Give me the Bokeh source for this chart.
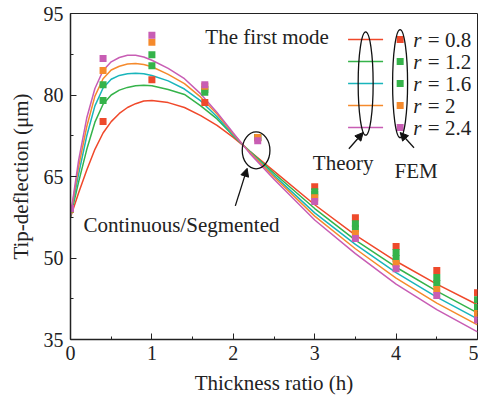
from bokeh.plotting import figure
from bokeh.models import FixedTicker, Arrow, NormalHead, Label
from bokeh.core.properties import value
from bokeh.embed import file_html
from bokeh.resources import INLINE

# Theory curves: tip deflection (um) vs thickness ratio h
h_theory = [0, 0.1, 0.2, 0.3, 0.4, 0.5, 0.6, 0.7, 0.8, 0.9, 1.0, 1.2, 1.4, 1.6,
            1.8, 2.0, 2.2, 2.5, 3.0, 3.5, 4.0, 4.5, 5.0]
theory_r08 = [57.5, 62.0, 66.2, 70.0, 73.0, 75.1, 76.6, 77.7, 78.4, 78.9, 79.0, 78.6,
              77.7, 76.2, 74.4, 72.2, 69.7, 66.0, 59.8, 54.2, 49.4, 45.2, 41.4]
theory_r12 = [57.6, 64.0, 70.0, 75.0, 78.3, 80.0, 80.9, 81.4, 81.7, 81.8, 81.7, 81.0,
              80.1, 78.0, 75.6, 72.5, 69.7, 65.6, 59.1, 53.3, 48.3, 43.9, 39.9]
theory_r16 = [57.7, 65.5, 72.5, 78.0, 81.3, 82.9, 83.6, 83.9, 84.0, 83.9, 83.6, 82.6,
              81.1, 78.9, 76.0, 72.6, 69.6, 65.2, 58.3, 52.5, 47.3, 42.8, 38.8]
theory_r20 = [57.8, 66.8, 74.2, 79.8, 83.0, 84.6, 85.3, 85.7, 85.8, 85.6, 85.2, 83.8,
              82.1, 79.6, 76.5, 72.8, 69.5, 64.9, 57.7, 51.7, 46.3, 41.7, 37.7]
theory_r24 = [57.8, 68.0, 75.8, 81.2, 84.5, 86.1, 86.9, 87.3, 87.3, 87.0, 86.4, 84.9,
              83.0, 80.2, 76.8, 73.0, 69.3, 64.5, 57.0, 50.8, 45.2, 40.5, 36.4]

# FEM results
h_fem = [0, 0.4, 1.0, 1.65, 2.3, 3.0, 3.5, 4.0, 4.5, 5.0]
fem_r08 = [59.0, 75.1, 82.8, 78.6, 72.1, 63.1, 57.4, 52.1, 47.7, 43.6]
fem_r12 = [59.0, 79.0, 85.4, 80.5, 72.2, 62.2, 56.3, 51.0, 46.4, 42.3]
fem_r16 = [59.0, 81.9, 87.4, 81.0, 72.2, 61.7, 55.4, 49.9, 45.3, 40.9]
fem_r20 = [59.0, 84.5, 89.7, 81.6, 72.2, 61.1, 54.5, 49.0, 44.2, 39.8]
fem_r24 = [59.1, 86.7, 91.0, 81.9, 71.6, 60.4, 53.6, 48.0, 43.1, 38.6]

r_labels = ["0.8", "1.2", "1.6", "2", "2.4"]
line_colors = ["#f0482a", "#35b34a", "#19b5bb", "#f58a2c", "#c85db4"]
fem_colors = ["#ee4a2c", "#35b34a", "#35b34a", "#f58a2c", "#c85db4"]
theory = [theory_r08, theory_r12, theory_r16, theory_r20, theory_r24]
fem = [fem_r08, fem_r12, fem_r16, fem_r20, fem_r24]

# Key rows (data y) and columns for the hand-drawn key
key_y = [90.2, 86.15, 82.1, 78.05, 74.0]
key_line_x = (3.41, 3.84)
key_sq_x = 4.05
key_txt_x = 4.21

SERIF = "Liberation Serif"
TXT = "21px"

p = figure(width=478, height=398, x_range=(0, 5), y_range=(35, 95),
           output_backend="svg", toolbar_location=None,
           min_border_left=70, min_border_right=1, min_border_top=13,
           min_border_bottom=59)
p.background_fill_color = "white"
p.border_fill_color = "white"
p.outline_line_color = "#222222"
p.outline_line_width = 1
p.xgrid.visible = False
p.ygrid.visible = False

p.xaxis.ticker = FixedTicker(ticks=[0, 1, 2, 3, 4, 5],
                             minor_ticks=[0.5, 1.5, 2.5, 3.5, 4.5])
p.yaxis.ticker = FixedTicker(ticks=[35, 50, 65, 80, 95],
                             minor_ticks=[42.5, 57.5, 72.5, 87.5])
for ax in (p.xaxis, p.yaxis):
    ax.major_tick_in = 6
    ax.major_tick_out = 0
    ax.minor_tick_in = 3
    ax.minor_tick_out = 0
    ax.axis_line_width = 1.5
    ax.axis_line_color = "#222222"
    ax.major_tick_line_color = "#222222"
    ax.minor_tick_line_color = "#222222"
    ax.major_label_text_font = SERIF
    ax.major_label_text_font_size = "20px"
    ax.major_label_text_color = "#222222"
    ax.axis_label_text_font = SERIF
    ax.axis_label_text_font_size = TXT
    ax.axis_label_text_font_style = "normal"
    ax.axis_label_text_color = "#222222"
p.xaxis.axis_label = "Thickness ratio (h)"
p.yaxis.axis_label = "Tip-deflection (μm)"
p.xaxis.major_label_standoff = 6
p.yaxis.major_label_standoff = 7
p.xaxis.axis_label_standoff = 8
p.yaxis.axis_label_standoff = 8

# Theory curves
for vals, c in zip(theory, line_colors):
    p.line(h_theory, vals, line_color=c, line_width=1.5)

# FEM squares
for vals, c in zip(fem, fem_colors):
    p.scatter(h_fem, vals, marker="square", size=7, fill_color=c,
              line_color=c, line_width=0)

# Key: sample lines, squares and labels
for ky, lc, fc, rl in zip(key_y, line_colors, fem_colors, r_labels):
    p.line(list(key_line_x), [ky, ky], line_color=lc, line_width=1.5)
    p.scatter([key_sq_x], [ky], marker="square", size=7, fill_color=fc,
              line_color=fc, line_width=0)
    p.text([key_txt_x], [ky], text=["r"], text_font=value(SERIF),
           text_font_style="italic", text_font_size=TXT,
           text_baseline="middle", text_color="#222222")
    p.text([key_txt_x + 0.18], [ky], text=["= " + rl], text_font=value(SERIF),
           text_font_size=TXT, text_baseline="middle", text_color="#222222")

# Ellipses grouping the key, and around the crossing point
p.ellipse([3.626, 4.049], [82.1, 82.1], width=[0.184, 0.184], height=[19.0, 19.9],
          fill_color=None, line_color="#111111", line_width=1.3)
p.ellipse([2.28], [69.8], width=[0.34], height=[6.8],
          fill_color=None, line_color="#111111", line_width=1.3)

# Arrows
for xs, ys, xe, ye in [(3.42, 70.1, 3.595, 73.1), (4.22, 70.3, 4.05, 73.1),
                       (2.025, 59.6, 2.17, 66.5)]:
    p.add_layout(Arrow(x_start=xs, y_start=ys, x_end=xe, y_end=ye,
                       line_color="#111111", line_width=1.3,
                       end=NormalHead(size=8, fill_color="#111111",
                                      line_color="#111111")))

# Text annotations
for txt, x, y, align in [("The first mode", 1.656, 90.6, "left"),
                         ("Theory", 3.35, 67.5, "center"),
                         ("FEM", 4.245, 66.0, "center"),
                         ("Continuous/Segmented", 0.16, 56.1, "left")]:
    p.add_layout(Label(x=x, y=y, text=txt, text_font=SERIF, text_font_size=TXT,
                       text_align=align, text_baseline="alphabetic",
                       text_color="#222222"))

open("out.html", "w").write(file_html(p, INLINE))
